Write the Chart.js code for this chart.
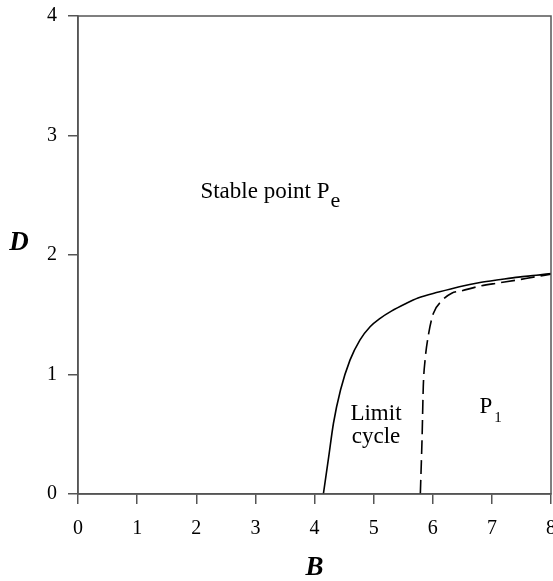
<!DOCTYPE html>
<html>
<head>
<meta charset="utf-8">
<script src="https://cdn.jsdelivr.net/npm/chart.js@4.4.0/dist/chart.umd.min.js"></script>
<style>
  html, body { margin: 0; padding: 0; background: #fff; }
  #wrap { width: 553px; height: 581px; }
</style>
</head>
<body>
<div id="wrap"><canvas id="phaseChart"></canvas></div>
<script>
// Boundary curves
const solidB = [4.15, 4.24, 4.32, 4.44, 4.60, 4.77, 4.94, 5.11, 5.30, 5.53, 5.75, 6.10, 6.45, 6.80, 7.15, 7.45, 7.75, 8.0];
const solidD = [0, 0.31, 0.59, 0.87, 1.12, 1.29, 1.40, 1.47, 1.53, 1.59, 1.64, 1.69, 1.735, 1.77, 1.795, 1.815, 1.83, 1.845];
const dashB = [5.79, 5.82, 5.84, 5.87, 5.93, 6.01, 6.16, 6.32, 6.49, 6.80, 7.10, 7.42, 7.70, 8.0];
const dashD = [0, 0.48, 0.90, 1.12, 1.34, 1.51, 1.62, 1.68, 1.70, 1.74, 1.765, 1.79, 1.815, 1.84];
const xTicks = [0, 1, 2, 3, 4, 5, 6, 7, 8];
const yTicks = [0, 1, 2, 3, 4];

// region labels (data coordinates)
const regionLabels = [
    {text: 'Stable point P', sub: 'e', b: 2.07, d: 2.48, align: 'left'},
    {text: 'Limit', b: 5.04, d: 0.616, align: 'center'},
    {text: 'cycle', b: 5.04, d: 0.43, align: 'center'},
    {text: 'P', sub: '1', b: 6.79, d: 0.675, align: 'left'}
];

const toPoints = (xs, ys) => xs.map((x, i) => ({x: x, y: ys[i]}));
const axisColor = '#555';
const serif = "'Liberation Serif', 'Times New Roman', serif";

const annotate = {
    id: 'annotate',
    afterDraw(chart) {
        const c = chart.ctx;
        const a = chart.chartArea;
        const xs = chart.scales.x, ys = chart.scales.y;
        c.save();
        // frame
        c.strokeStyle = axisColor;
        c.lineWidth = 1.5;
        c.strokeRect(a.left, a.top, a.right - a.left, a.bottom - a.top);

        c.fillStyle = '#000';
        c.textBaseline = 'alphabetic';
        regionLabels.forEach(l => {
            const px = xs.getPixelForValue(l.b);
            const py = ys.getPixelForValue(l.d);
            c.font = '23px ' + serif;
            c.textAlign = l.align;
            c.fillText(l.text, px, py);
            if (l.sub) {
                const w = c.measureText(l.text).width;
                const start = l.align === 'center' ? px + w / 2 : px + w;
                c.textAlign = 'left';
                if (l.sub === 'e') {
                    c.font = '22px ' + serif;
                    c.fillText(l.sub, start + 1, py + 9);
                } else {
                    c.font = '15px ' + serif;
                    c.fillText(l.sub, start + 2, py + 9);
                }
            }
        });

        // axis titles
        c.font = 'italic bold 27px ' + serif;
        c.textAlign = 'center';
        c.textBaseline = 'middle';
        c.fillText('D', 19, ys.getPixelForValue(2.1));
        c.fillText('B', xs.getPixelForValue(4), 568);
        c.restore();
    }
};

new Chart(document.getElementById('phaseChart').getContext('2d'), {
    type: 'scatter',
    data: {
        datasets: [{
            data: toPoints(solidB, solidD),
            showLine: true,
            borderColor: '#000',
            borderWidth: 1.6,
            pointRadius: 0,
            cubicInterpolationMode: 'monotone'
        }, {
            data: toPoints(dashB, dashD),
            showLine: true,
            borderColor: '#000',
            borderWidth: 1.6,
            borderDash: [14, 6],
            pointRadius: 0,
            cubicInterpolationMode: 'monotone'
        }]
    },
    options: {
        responsive: true,
        maintainAspectRatio: false,
        animation: false,
        layout: {padding: {top: 16, right: 2, left: 0, bottom: 0}},
        plugins: {legend: {display: false}, tooltip: {enabled: false}},
        scales: {
            x: {
                type: 'linear',
                min: 0, max: 8,
                afterBuildTicks: s => { s.ticks = xTicks.map(v => ({value: v})); },
                afterFit: s => { s.height = 87; s.paddingLeft = 0; s.paddingRight = 0; },
                grid: {drawOnChartArea: false, drawTicks: true, tickLength: 10, tickColor: axisColor, lineWidth: 1.5},
                border: {display: true, color: axisColor, width: 1.5},
                ticks: {color: '#000', padding: 13, font: {family: serif, size: 20}, maxRotation: 0}
            },
            y: {
                type: 'linear',
                min: 0, max: 4,
                afterBuildTicks: s => { s.ticks = yTicks.map(v => ({value: v})); },
                afterFit: s => { s.width = 78; s.paddingTop = 0; s.paddingBottom = 0; },
                grid: {drawOnChartArea: false, drawTicks: true, tickLength: 10, tickColor: axisColor, lineWidth: 1.5},
                border: {display: true, color: axisColor, width: 1.5},
                ticks: {color: '#000', padding: 11, font: {family: serif, size: 20}}
            }
        }
    },
    plugins: [annotate]
});
</script>
</body>
</html>
